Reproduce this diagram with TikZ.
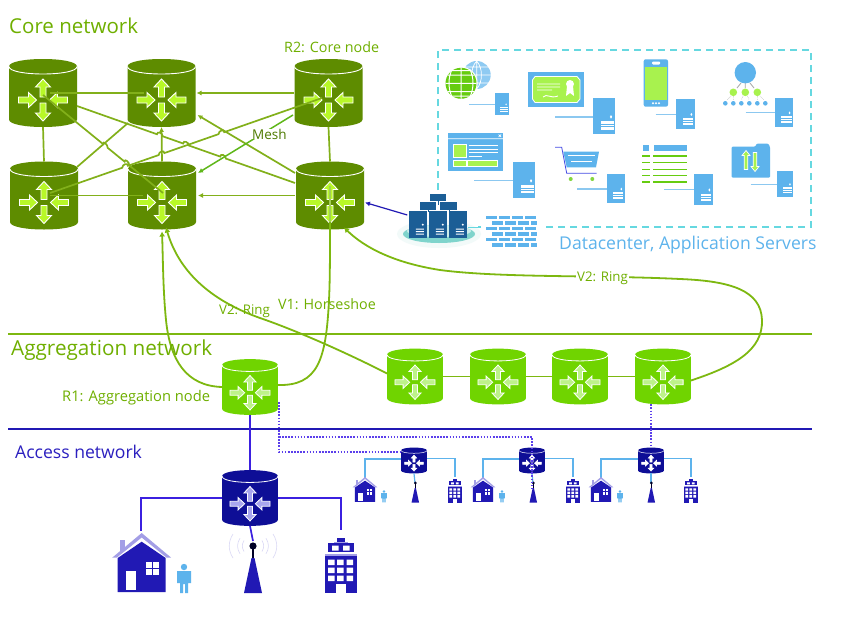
\documentclass[tikz,border=0pt]{standalone}
\usepackage{fontspec}
\setmainfont{Open Sans}
\usetikzlibrary{calc,arrows.meta}
\definecolor{corebody}{HTML}{5E8C00}
\definecolor{corearrow}{HTML}{B8F828}
\definecolor{aggbody}{HTML}{70D400}
\definecolor{aggarrow}{HTML}{BDF28A}
\definecolor{accbody}{HTML}{0E0E96}
\definecolor{accarrow}{HTML}{A9A6EE}
\definecolor{dark}{HTML}{2119B4}
\definecolor{lav}{HTML}{A39EE6}
\definecolor{sky}{HTML}{5DB3EC}
\definecolor{skyl}{HTML}{8CC8F0}
\definecolor{lime}{HTML}{A8F24E}
\definecolor{grn}{HTML}{66CC10}
\definecolor{steel}{HTML}{1B5E96}
\definecolor{teal}{HTML}{7FD4CC}
\definecolor{cyanl}{HTML}{66D8E0}
\definecolor{mesh}{HTML}{82B01A}
\definecolor{meshb}{HTML}{5FB71A}
\definecolor{ring}{HTML}{7DB810}
\definecolor{blueline}{HTML}{3B20E0}
\definecolor{dotc}{HTML}{5B3FEB}
\definecolor{txtg}{HTML}{6FAF00}
\definecolor{txtb}{HTML}{2B1FBF}
\tikzset{
  x=1pt,y=-1pt,
  routerbox/.style={inner sep=0pt,outer sep=0pt,minimum size=#1},
  lab/.style={inner sep=0pt,anchor=west,font=\fontsize{14.3}{16}\selectfont,text=txtg},
  head/.style={inner sep=0pt,anchor=west,font=\fontsize{20.5}{24}\selectfont,text=txtg},
  meshline/.style={draw=mesh,line width=1.7pt},
  meshtip/.style={meshline,-{Latex[length=5pt,width=5pt]}},
  ringline/.style={draw=ring,line width=1.8pt},
  ringtip/.style={ringline,-{Latex[length=5pt,width=6pt]}},
  acc/.style={draw=blueline,line width=1.7pt},
  sub/.style={draw=sky,line width=1.2pt},
  dots/.style={draw=dotc,line width=1.6pt,dash pattern=on 1.6pt off 1.5pt},
  srvline/.style={draw=skyl,line width=1.2pt},
  pics/rt/.style n args={3}{code={
    \fill[#1] (-34,-26.5) .. controls (-34,-36.5) and (34,-36.5) .. (34,-26.5) -- (34,26.5)
      .. controls (34,36.5) and (-34,36.5) .. (-34,26.5) -- cycle;
    \draw[white,line width=#3] (-34,-26.5) .. controls (-34,-16.5) and (34,-16.5) .. (34,-26.5);
    \foreach \px/\py/\ang in {0/-5/0,0/19/180,-15.5/7/-90,15.5/7/90}{
      \draw[shift={(\px,\py)},rotate=\ang,draw=white,fill=#2,line width=#3,line join=miter]
        (0,-9) -- (7.5,-1) -- (3,-1) -- (3,9) -- (-3,9) -- (-3,-1) -- (-7.5,-1) -- cycle;
    }
  }},
  pics/house/.style={code={
    \fill[lav] (-22,7) rectangle (-16.5,18);
    \fill[lav] (0,0) -- (29.5,24.7) -- (25,24.7) -- (0,4.5) -- (-25,24.7) -- (-29.5,24.7) -- cycle;
    \fill[dark] (0,8.7) -- (24,25) -- (24,59) -- (-24,59) -- (-24,25) -- cycle;
    \fill[white] (-15.5,37.7) rectangle (-5.5,57);
    \fill[white] (4.5,29) rectangle (17.5,42);
    \draw[dark,line width=1pt] (11,29) -- (11,42) (4.5,35.5) -- (17.5,35.5);
  }},
  pics/person/.style={code={
    \fill[sky] (0,-13) circle (3.2);
    \fill[sky] (-7,-9) -- (7,-9) -- (7,3) -- (4,3) -- (4,13) -- (1,13) -- (1,4) -- (-1,4) -- (-1,13) -- (-4,13) -- (-4,3) -- (-7,3) -- cycle;
  }},
  pics/waves/.style={code={
    \foreach \rr in {9,13,20}{
      \draw[draw=lav!40,line width=.6pt] (-\rr,-.6*\rr) .. controls (-1.25*\rr,-.2*\rr) and (-1.25*\rr,.2*\rr) .. (-\rr,.6*\rr);
      \draw[draw=lav!40,line width=.6pt] (\rr,-.6*\rr) .. controls (1.25*\rr,-.2*\rr) and (1.25*\rr,.2*\rr) .. (\rr,.6*\rr);
    }
  }},
  pics/tower/.style={code={
    \fill[dark] (-1.5,12) -- (1.5,12) -- (9,47) -- (-9,47) -- cycle;
    \fill[black!85!blue] (-.8,0) rectangle (.8,12);
    \fill[black!85!blue] (0,0) circle (3.6);
  }},
  pics/building/.style={code={
    \fill[dark] (-4.5,8) rectangle (4,12);
    \fill[lav] (-7,12) rectangle (7,13);
    \fill[dark] (-13,13) rectangle (13,22);
    \fill[white] (-9,15.5) rectangle (-2.5,20.5) (2,15.5) rectangle (8.5,20.5);
    \fill[lav] (-16,24) rectangle (16,26);
    \fill[dark] (-16,26) rectangle (16,63);
    \foreach \wy in {29.5,37.5,45.5}{
      \fill[white] (-13,\wy) rectangle ++(6.5,5.5) (-4,\wy) rectangle ++(6.5,5.5) (5.5,\wy) rectangle ++(6.5,5.5);
    }
    \fill[white] (-5,53.5) rectangle (5,63);
  }},
  pics/srv/.style={code={
    \fill[sky] (0,0) rectangle (1,1);
    \fill[white] (.81,.52) circle (.05);
    \fill[white] (.35,.64) rectangle (.92,.87);
    \draw[sky,line width=.5pt] (.35,.715) -- (.92,.715) (.35,.79) -- (.92,.79);
  }},
  pics/dksrv/.style={code={
    \fill[steel] (0,0) rectangle (17.5,27.5);
    \fill[white] (13.5,14) circle (1.1);
    \fill[white] (6.5,18) rectangle (14.5,19) (6.5,20.5) rectangle (14.5,21.5) (6.5,23) rectangle (14.5,24);
  }},
}
\newcommand\router[7]{%
  \node[routerbox={68pt*#4}] (#1) at (#2,#3) {};
  \pic[scale=#4] at (#2,#3) {rt={#5}{#6}{#7}};}
\newcommand\srv[5]{%
  \node[inner sep=0pt,outer sep=0pt,minimum width=#4pt,minimum height=#5pt,anchor=north west] (#1) at (#2,#3) {};
  \pic[xscale=#4,yscale=#5] at (#2,#3) {srv};}
\newcommand\bmp[3]{-- ($(#1)!#3!(#2)!3pt!(#1)$) .. controls +(0,-3.5) and +(0,-3.5) .. ($(#1)!#3!(#2)!3pt!(#2)$)}
\begin{document}
\begin{tikzpicture}
\useasboundingbox (0,0) rectangle (848,629);
\fill[white] (0,0) rectangle (848,629);

% section rules
\coordinate (ra) at (8,334); \coordinate (rb) at (812,334);
\coordinate (rc) at (8,429); \coordinate (rd) at (812,429);
\draw[draw=ring,line width=1.2pt] (ra) -- (rb);
\draw[draw=dark,line width=1.3pt] (rc) -- (rd);

% datacenter frame
\draw[draw=cyanl,line width=1.4pt,dash pattern=on 7pt off 5pt] (438,190) -- (438,50) -- (811,50) -- (811,227) -- (478,227);

% routers: core
\router{c1}{43}{93}{1}{corebody}{corearrow}{.9pt}
\router{c2}{161.5}{93}{1}{corebody}{corearrow}{.9pt}
\router{c3}{328.5}{93}{1}{corebody}{corearrow}{.9pt}
\router{c4}{44}{195.5}{1}{corebody}{corearrow}{.9pt}
\router{c5}{162}{195.5}{1}{corebody}{corearrow}{.9pt}
\router{c6}{330}{195.5}{1}{corebody}{corearrow}{.9pt}
% routers: aggregation
\router{r1}{250}{387}{.82}{aggbody}{aggarrow}{.8pt}
\router{a1}{415}{376.5}{.82}{aggbody}{aggarrow}{.8pt}
\router{a2}{498}{376.5}{.82}{aggbody}{aggarrow}{.8pt}
\router{a3}{580}{376.5}{.82}{aggbody}{aggarrow}{.8pt}
\router{a4}{663}{376.5}{.82}{aggbody}{aggarrow}{.8pt}
% routers: access
\router{b0}{250}{498}{.82}{accbody}{accarrow}{.8pt}
\router{s1}{414}{460.5}{.38}{accbody}{white}{.5pt}
\router{s2}{532}{460.5}{.38}{accbody}{white}{.5pt}
\router{s3}{651}{460.5}{.38}{accbody}{white}{.5pt}

% mesh
\draw[meshline] ([shift={(7,0)}]c1.center) -- ([shift={(-18,0)}]c2.center);
\draw[meshtip] ([shift={(-35,0)}]c3.center) -- ([shift={(35,0)}]c2.center);
\draw[meshline] ([shift={(6,0)}]c4.center) -- ([shift={(-19,0)}]c5.center);
\draw[meshtip] ([shift={(-35,0)}]c6.center) -- ([shift={(36,0)}]c5.center);
\draw[meshline] (c1.south) -- (c4.north);
\draw[meshline] (c3.south) -- (c6.north);
\draw[meshtip] (c5.north) -- (c2.south);
\coordinate (m1a) at ([shift={(0,2)}]c1.center);
\coordinate (m1b) at ([shift={(1,-2.5)}]c5.center);
\draw[meshline] (m1a) \bmp{m1a}{m1b}{.52} \bmp{m1a}{m1b}{.7} -- (m1b);
\coordinate (m2a) at ([shift={(34,13)}]c1.center);
\coordinate (m2b) at ([shift={(-35,-12.5)}]c6.center);
\draw[meshline] (m2a) \bmp{m2a}{m2b}{.38} \bmp{m2a}{m2b}{.5} \bmp{m2a}{m2b}{.67} -- (m2b);
\draw[meshtip] ([shift={(-35,-22.5)}]c6.center) -- ([shift={(36,22)}]c2.center);
\draw[meshline] ([shift={(33,-28.5)}]c4.center) -- ([shift={(-33.5,30)}]c2.center);
\coordinate (m3a) at ([shift={(6,-2.5)}]c4.center);
\coordinate (m3b) at ([shift={(-6.5,5)}]c3.center);
\draw[meshline] (m3a) \bmp{m3a}{m3b}{.276} \bmp{m3a}{m3b}{.41} \bmp{m3a}{m3b}{.63} -- (m3b);
\draw[draw=meshb,line width=1.5pt,-{Latex[length=5pt,width=5pt]}] ([shift={(-35.5,22)}]c3.center) -- ([shift={(36,-22.5)}]c5.center);
\node[lab,fill=white,text=black!30!txtg,inner xsep=1pt,font=\fontsize{13.5}{15}\selectfont] (meshl) at (251,134) {Mesh};

% rings
\draw[ringtip] (r1.west) .. controls (186,386) and (170,360) .. (166,320) .. controls (163,290) and (163,260) .. ([yshift=-2pt]c5.south);
\draw[ringline] ([yshift=2pt]r1.east) .. controls (318,386) and (326,360) .. (329,300) .. controls (330,280) and (330,255) .. ([yshift=8pt]c6.south);
\draw[draw=ring!70!white,line width=1.2pt] ([yshift=8pt]c6.south) -- ([yshift=10pt]c6.center);
\draw[ringtip] ([yshift=3pt]a1.west) .. controls (345,352) and (295,330) .. (260,318) .. controls (215,302) and (180,275) .. ([shift={(4,-2)}]c5.south);
\draw[ringline] (a1.east) -- (a2.west);
\draw[ringline] (a2.east) -- (a3.west);
\draw[ringline] (a3.east) -- (a4.west);
\draw[ringtip] ([yshift=-4pt]a4.east) .. controls (735,366) and (763,350) .. (762,320)
  .. controls (761,290) and (730,281) .. (680,279) .. controls (600,275) and (500,278) .. (440,270)
  .. controls (395,263) and (365,248) .. ([shift={(14,-2)}]c6.south);
\node[lab,fill=white,inner xsep=1pt,font=\fontsize{13.3}{15}\selectfont] (v2b) at (576,278) {V2: Ring};
\node[lab,font=\fontsize{13.3}{15}\selectfont] (v2a) at (219,311) {V2: Ring};
\node[lab] (v1) at (278,304) {V1: Horseshoe};
\node[lab] (r2l) at (284,47) {R2: Core node};
\node[lab,font=\fontsize{14.7}{16}\selectfont] (r1l) at (62,398) {R1: Aggregation node};

% heads
\node[head] (h1) at (9,26) {Core network};
\node[head,font=\fontsize{20.7}{24}\selectfont] (h2) at (11,350) {Aggregation network};
\node[head,text=txtb,font=\fontsize{17.6}{20}\selectfont] (h3) at (15,452) {Access network};
\node[head,text=sky,font=\fontsize{17.6}{20}\selectfont] (h4) at (559,245) {Datacenter, Application Servers};

% access links
\draw[acc] (r1.south) -- (b0.north);
\coordinate (hb) at (141,531); \coordinate (bb) at (341,530); \coordinate (tb) at (253,541);
\draw[acc] (b0.west) -- (hb |- b0.west) -- (hb);
\draw[acc] (b0.east) -- (bb |- b0.east) -- (bb);
\draw[acc] (b0.south) -- (tb);
\pic at (141.7,533) {house};
\pic at (184,580) {person};
\pic at (253,546) {waves};
\pic at (253,546) {tower};
\pic at (341,530) {building};

% dotted links
\coordinate (d0) at (279,402);
\coordinate (d1) at (279,437); \coordinate (d2) at (279,452);
\draw[dots] (d0) -- (d2) -- (d2 -| s1.west);
\draw[dots] (d1) -- (d1 -| s2.center) -- (s2.north);
\draw[dots] (s3.north |- a4.south) -- (s3.north);

% small sites
\foreach \nm/\dx in {s1/0,s2/118,s3/236}{
  \coordinate (hs) at (365+\dx,478); \coordinate (bs) at (455+\dx,477); \coordinate (ts) at (415+\dx,483);
  \draw[sub] ([yshift=1.5pt]\nm.west) -- ++(-36,0) -| (hs);
  \draw[sub] ([yshift=2pt]\nm.east) -- ++(28,0) -| (bs);
  \draw[sub] (\nm.south) -- (ts);
  \pic[scale=.42] at (365+\dx,477) {house};
  \pic[scale=.42] at (384+\dx,497) {person};
  \pic[scale=.42] at (415.3+\dx,483) {tower};
  \pic[scale=.43] at (455+\dx,475.6) {building};
}
\draw[dots] (s2.north) -- ([yshift=-15pt]s2.south);

% firewall
\node[inner sep=0pt,minimum width=54pt,minimum height=34pt] (fw) at (510.5,231.5) {};
\fill[white] (fw.north west) rectangle (fw.south east);
\foreach \ry/\off in {215.5/0,221/6.5,226.5/0,232/6.5,237.5/0,243/6.5}{
  \foreach \cx in {0,13,26,39}{
    \fill[sky] (485.5+\off+\cx,\ry) rectangle ++(11,3.6);
  }
}
\fill[white] (536.5,215) rectangle (544,248);

% datacenter group
\fill[black!3!teal!10] (439,234) ellipse (42 and 14);
\fill[teal] (439,234) ellipse (36 and 9);
\fill[white!60!teal] (439,231) ellipse (32 and 6);
\node[inner sep=0pt,minimum width=58pt,minimum height=45pt] (dc) at (436.5,215) {};
\draw[steel,line width=.7pt] (438.5,200) -- (438.5,205) (428,209) -- (428,212) (449,209) -- (449,212);
\fill[steel] (430,194) rectangle (446,200.6);
\fill[steel] (419.5,202) rectangle (436,209.5);
\fill[steel] (440,202) rectangle (456.5,209.5);
\pic at (409.3,210.7) {dksrv};
\pic at (429.3,210.7) {dksrv};
\pic at (449.3,210.7) {dksrv};
\draw[draw=dark,line width=1.2pt,-{Latex[length=5pt,width=5pt]}] (dc.west) -- ([shift={(1,7)}]c6.east);
\draw[draw=cyanl,line width=1.4pt] (468,227.7) -- (478,227.7);

% 1 globe
\fill[sky!70] (476.7,75) circle (14);
\draw[white,line width=.7pt] (476.7,61) .. controls (470,68) and (470,82) .. (476.7,89) .. controls (483,82) and (483,68) .. (476.7,61) (476.7,61) -- (476.7,89) (462.7,75) -- (490.7,75) (465,67) -- (488.5,67) (465,83) -- (488.5,83);
\fill[white] (461,83.3) circle (16.6);
\fill[grn] (461,83.3) circle (15.5);
\draw[white,line width=1pt] (461,67.8) -- (461,98.8) (452,69.5) .. controls (448,78) and (448,88) .. (452,97) (470,69.5) .. controls (474,78) and (474,88) .. (470,97)
  (445.5,83.3) -- (476.5,83.3) (448,75) -- (474,75) (448,91.6) -- (474,91.6) (451,70.5) -- (471,70.5) (451,96) -- (471,96);
\srv{sv1}{495}{93.3}{13.7}{21.4}
\coordinate (i1) at (469.3,104.3); \draw[srvline] (i1) -- (i1 -| sv1.west);

% 2 certificate
\fill[sky] (527.7,72.3) rectangle (583.7,107.3);
\fill[lime,draw=white,line width=.8pt] (535,76.5) -- (577,76.5) -- (580,80) -- (580,99) -- (577,102.5) -- (535,102.5) -- (532.5,99) -- (532.5,80) -- cycle;
\draw[white,line width=.9pt] (537,84) -- (560,84) (537,87) -- (560,87) (537,90) -- (552,90) (543,97) .. controls (547,93) and (550,99) .. (558,96);
\fill[white] (570,84) circle (4);
\fill[white] (567,86) -- (573,86) -- (574,96) -- (570,93) -- (566,96) -- cycle;
\srv{sv2}{592.7}{98}{22.6}{36.3}
\coordinate (i2) at (555,117); \draw[srvline] (i2) -- (i2 -| sv2.west);

% 3 phone
\fill[sky,rounded corners=2pt] (643.7,59.3) rectangle (668,106.7);
\fill[lime] (645,66.7) rectangle (666.7,100);
\fill[white,rounded corners=1pt] (652,61.5) rectangle (660,64.5);
\fill[white] (653,103.3) circle (1.1) (656,103.3) circle (1.1) (659,103.3) circle (1.1);
\srv{sv3}{676}{98.7}{19}{30.3}
\coordinate (i3) at (655.7,114.7); \draw[srvline] (i3) -- (i3 -| sv3.west);

% 4 org chart
\draw[black!35,line width=.8pt] (741,83) -- (737,88) (745.3,83) -- (745.3,88) (750,83) -- (754,88);
\foreach \xa in {725.3,733.3,741.3,749.3,757.3,765.3}{ \fill[sky] (\xa,103.3) circle (2.3); }
\draw[black!35,line width=.5pt,densely dotted] (731,96) -- (727,100) (733.3,96) -- (733.3,100) (743,96) -- (741.3,100) (747.5,96) -- (749.3,100) (757.3,96) -- (757.3,100) (760,96) -- (764,100);
\fill[sky] (745.3,72.7) circle (10.7);
\fill[lime] (733.3,92.3) circle (3.8) (745.3,92.3) circle (3.8) (757.3,92.3) circle (3.8);
\srv{sv4}{775}{98}{18}{28.7}
\coordinate (i4) at (745.7,112.7); \draw[srvline] (i4) -- (i4 -| sv4.west);

% 5 browser
\fill[sky] (448,132.7) rectangle (503.3,171.3);
\draw[white,line width=.7pt] (448,138.7) -- (503.3,138.7) (498.5,134.5) -- (501,137) (501,134.5) -- (498.5,137);
\fill[lime,draw=white,line width=.8pt] (453.5,144) rectangle (466,157.3);
\draw[white,line width=.9pt] (468.5,145.7) -- (497.5,145.7) (468.5,149.3) -- (497.5,149.3) (468.5,152.7) -- (497.5,152.7);
\draw[white,line width=.9pt] (468.5,156) -- (481.5,156);
\fill[lime,draw=white,line width=.8pt] (453.5,160.7) rectangle (466,166.7);
\fill[lime,draw=white,line width=.8pt] (467.5,160.7) rectangle (497,166.7);
\srv{sv5}{513}{162.3}{22.3}{35.7}
\coordinate (i5) at (474.3,180.7); \draw[srvline] (i5) -- (i5 -| sv5.west);

% 6 cart
\fill[sky] (563.3,151.7) -- (599,151.7) -- (596,167.3) -- (566.7,167.3) -- cycle;
\draw[white,line width=.8pt] (567.5,155) -- (595,155) (571,161) -- (591.7,161);
\draw[draw=blueline!70!sky,line width=.8pt] (555,147.3) -- (561.7,147.3) -- (566.7,173.3) -- (596.7,173.3);
\fill[grn!80] (570.7,179) circle (2) (592.3,179) circle (2);
\srv{sv6}{607}{174.3}{17.7}{28.4}
\coordinate (i6) at (577.3,189); \draw[srvline] (i6) -- (i6 -| sv6.west);

% 7 list
\fill[sky] (643,145.3) rectangle (648.7,150.7);
\fill[sky] (654,145.3) rectangle (686.7,150.7);
\foreach \ly in {156,162.7,169.3,175.7,182}{
  \draw[draw=grn,line width=1.2pt] (642,\ly) -- (650,\ly) (653,\ly) -- (687.3,\ly);
}
\srv{sv7}{694}{174}{19}{30.7}
\coordinate (i7) at (664.3,189.7); \draw[srvline] (i7) -- (i7 -| sv7.west);

% 8 folder
\fill[sky,rounded corners=1pt] (731.7,146.7) -- (755,146.7) -- (757,143.5) -- (768,143.5) -- (770,146.7) -- (770,177.7) -- (731.7,177.7) -- cycle;
\draw[shift={(746,160)},draw=white,fill=lime,line width=.7pt] (0,-9.5) -- (4,-4.5) -- (1.8,-4.5) -- (1.8,9.5) -- (-1.8,9.5) -- (-1.8,-4.5) -- (-4,-4.5) -- cycle;
\draw[shift={(755,162)},rotate=180,draw=white,fill=lime,line width=.7pt] (0,-9.5) -- (4,-4.5) -- (1.8,-4.5) -- (1.8,9.5) -- (-1.8,9.5) -- (-1.8,-4.5) -- (-4,-4.5) -- cycle;
\srv{sv8}{777}{171}{16}{25.7}
\coordinate (i8) at (750.7,184.3); \draw[srvline] (i8) -- (i8 -| sv8.west);
\end{tikzpicture}
\end{document}
